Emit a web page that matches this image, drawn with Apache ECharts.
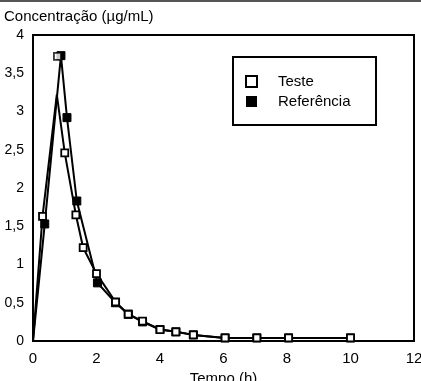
<!DOCTYPE html>
<html>
<head>
<meta charset="utf-8">
<script src="https://cdn.jsdelivr.net/npm/echarts@6/dist/echarts.min.js"></script>
<style>html,body{margin:0;padding:0;background:#fff}#c{width:421px;height:381px}</style>
</head>
<body>
<div id="c"></div>
<script>
// Teste (open squares)
var testeTime = [0, 0.3, 0.75, 1.0, 1.35, 1.58, 2.0, 2.6, 3.0, 3.45, 4.0, 4.5, 5.05, 6.05, 7.05, 8.05, 10.0];
var testeConc = [0, 1.63, 3.22, 2.46, 1.65, 1.22, 0.88, 0.51, 0.35, 0.26, 0.15, 0.12, 0.08, 0.04, 0.04, 0.04, 0.04];
// line vertices drawn without a marker
var testeNoMarker = [1, 0, 1, 0, 0, 0, 0, 0, 0, 0, 0, 0, 0, 0, 0, 0, 0];
// open square shown at the peak
var testePeakTime = [0.77];
var testePeakConc = [3.72];
// Referência (filled squares)
var refTime = [0, 0.37, 0.88, 1.07, 1.38, 2.03, 2.6, 3.0, 3.45, 4.0, 4.5, 5.05, 6.05, 7.05, 8.05, 10.0];
var refConc = [0, 1.53, 3.73, 2.92, 1.83, 0.76, 0.5, 0.35, 0.25, 0.15, 0.12, 0.08, 0.04, 0.04, 0.04, 0.04];
var refNoMarker = [1, 0, 0, 0, 0, 0, 0, 0, 0, 0, 0, 0, 0, 0, 0, 0];
// axis ticks
var xTicks = [0, 2, 4, 6, 8, 10, 12];
var yTicks = [0, 0.5, 1, 1.5, 2, 2.5, 3, 3.5, 4];

var testeData = testeTime.map(function (t, i) {
  var d = { value: [t, testeConc[i]] };
  if (testeNoMarker[i]) d.symbol = 'none';
  return d;
});
var refData = refTime.map(function (t, i) {
  var d = { value: [t, refConc[i]] };
  if (refNoMarker[i]) d.symbol = 'none';
  return d;
});
var peakData = testePeakTime.map(function (t, i) { return [t, testePeakConc[i]]; });

var chart = echarts.init(document.getElementById('c'), null, { renderer: 'canvas' });
var font = 'Liberation Sans, Arial, sans-serif';
chart.setOption({
  animation: false,
  backgroundColor: '#fff',
  textStyle: { fontFamily: font, color: '#000' },
  graphic: [
    { type: 'rect', shape: { x: 0, y: 0, width: 421, height: 2 }, style: { fill: '#555' } },
    { type: 'rect', shape: { x: 233, y: 57, width: 143, height: 68 }, style: { fill: '#fff', stroke: '#000', lineWidth: 2 }, z: 5 },
    { type: 'text', left: 4, top: 9, style: { text: 'Concentração (µg/mL)', font: '15px ' + font, fill: '#000' } }
  ],
  grid: { left: 33, right: 7, top: 35, bottom: 40, outerBoundsMode: 'none', containLabel: false,
    show: true, borderColor: '#000', borderWidth: 2, backgroundColor: 'transparent' },
  legend: {
    orient: 'vertical', left: 240, top: 69, itemGap: 5, itemWidth: 11, itemHeight: 11, z: 10,
    textStyle: { fontFamily: font, fontSize: 15, color: '#000', padding: [0, 0, 0, 16] },
    data: [
      { name: 'Teste', icon: 'rect', itemStyle: { color: '#fff', borderColor: '#000', borderWidth: 2 } },
      { name: 'Referência', icon: 'rect', itemStyle: { color: '#000', borderColor: '#000', borderWidth: 0 } }
    ]
  },
  xAxis: {
    type: 'value', min: 0, max: 12, interval: 2,
    name: 'Tempo (h)', nameLocation: 'middle', nameGap: 28,
    nameTextStyle: { fontFamily: font, fontSize: 15, color: '#000' },
    axisLine: { show: true, lineStyle: { color: '#000', width: 2 } },
    axisTick: { show: false }, splitLine: { show: false },
    axisLabel: { fontFamily: font, fontSize: 15, color: '#000', margin: 10,
      customValues: xTicks, formatter: function (v) { return String(v); } }
  },
  yAxis: {
    type: 'value', min: 0, max: 4, interval: 0.5,
    axisLine: { show: true, lineStyle: { color: '#000', width: 2 } },
    axisTick: { show: false }, splitLine: { show: false },
    axisLabel: { fontFamily: font, fontSize: 14, color: '#000', margin: 9,
      customValues: yTicks, formatter: function (v) { return String(v).replace('.', ','); } }
  },
  series: [
    {
      name: 'Referência', type: 'line', data: refData, symbol: 'rect', symbolSize: 8,
      lineStyle: { color: '#000', width: 2 }, itemStyle: { color: '#000', borderColor: '#000', borderWidth: 1 }, z: 2
    },
    {
      name: 'Teste', type: 'line', data: testeData, symbol: 'rect', symbolSize: 7,
      lineStyle: { color: '#000', width: 2 }, itemStyle: { color: '#fff', borderColor: '#000', borderWidth: 1.8 }, z: 3
    },
    {
      name: 'Teste', type: 'scatter', data: peakData, symbol: 'rect', symbolSize: 7,
      itemStyle: { color: '#fff', borderColor: '#000', borderWidth: 1.8 }, z: 3
    }
  ]
});
</script>
</body>
</html>
